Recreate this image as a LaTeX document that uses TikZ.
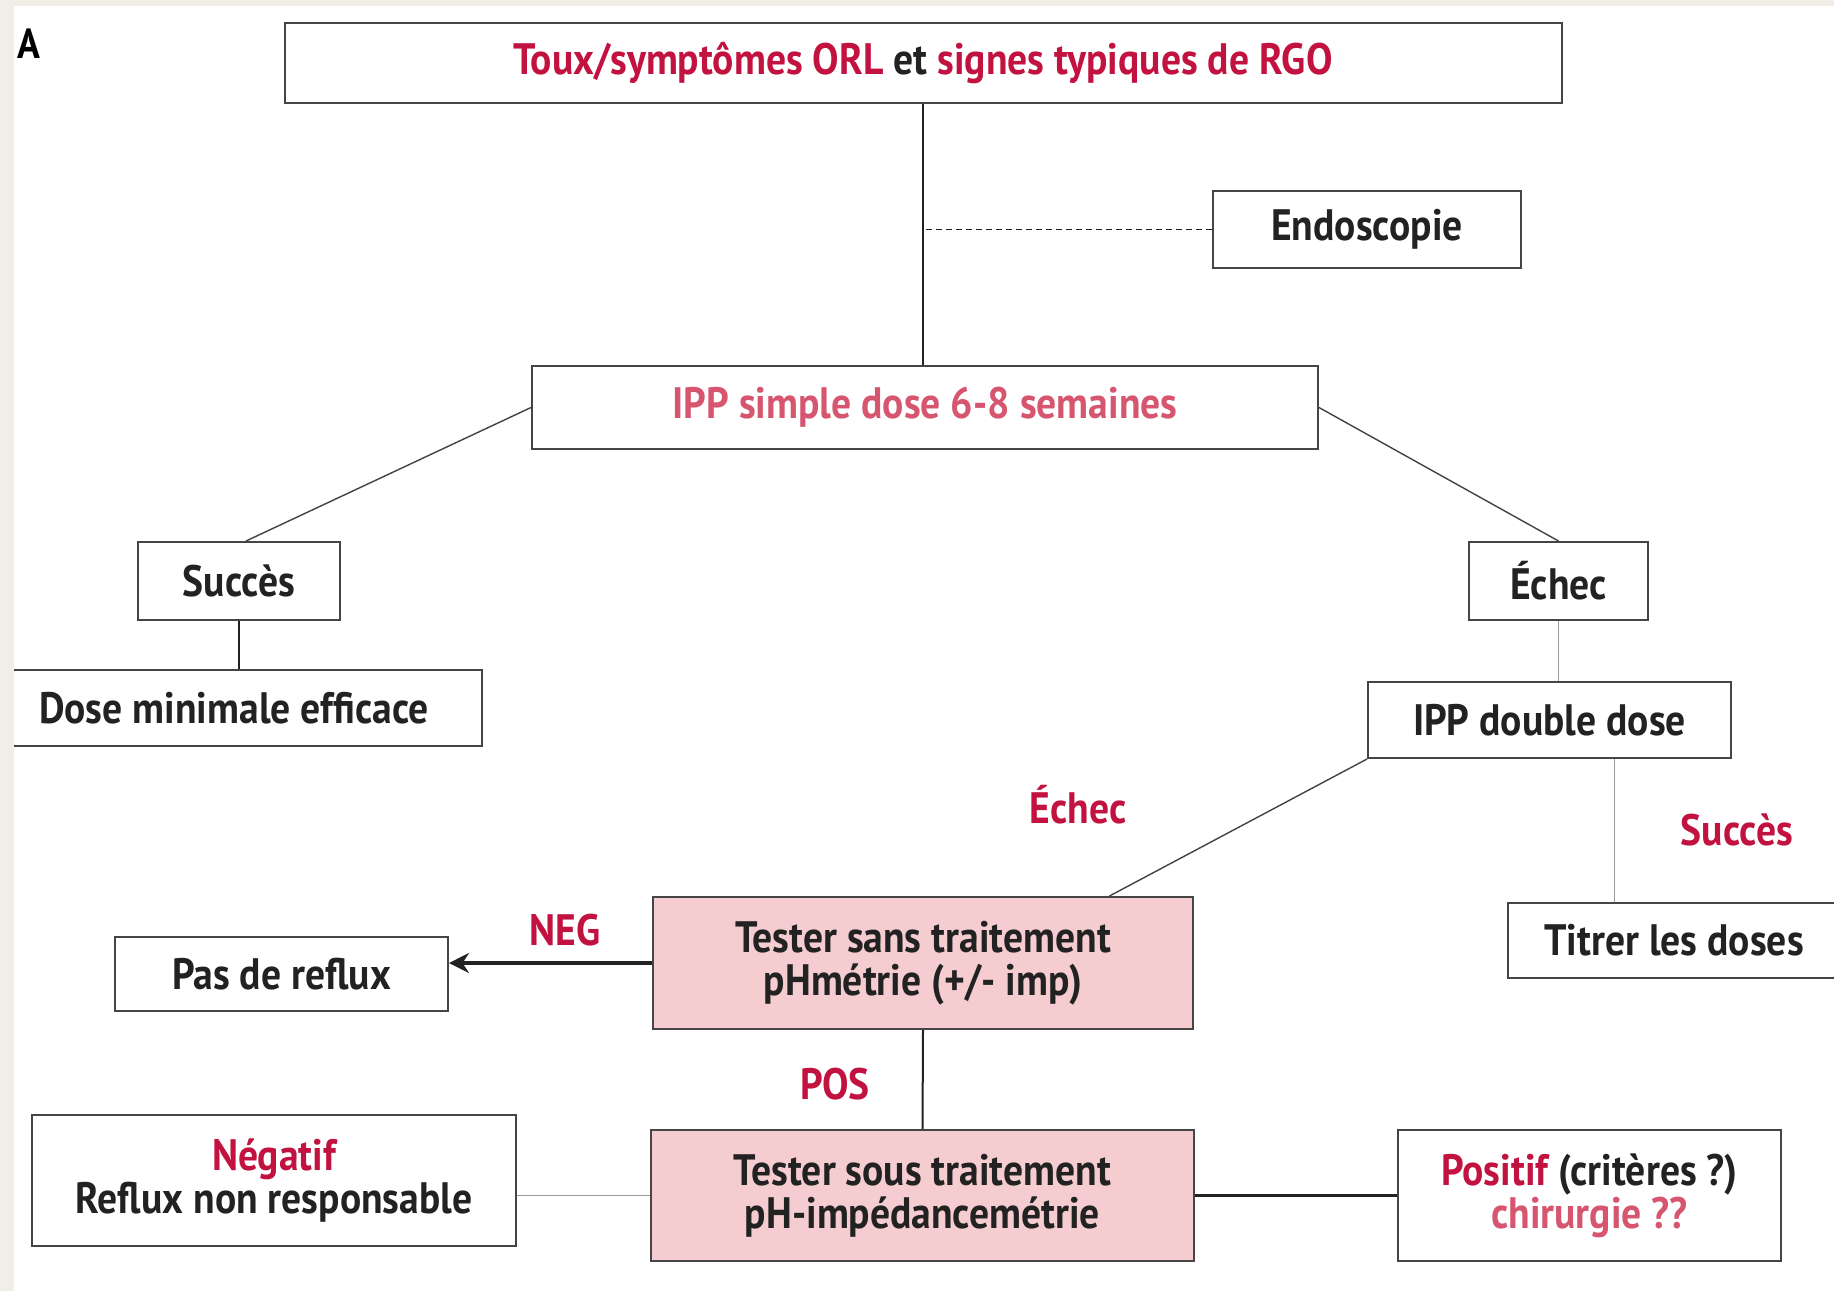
\documentclass[tikz,border=0pt]{standalone}
\usepackage{fontspec}
\setmainfont{PT Sans}[FakeStretch=0.9]
\usetikzlibrary{arrows.meta,calc}
\definecolor{crimson}{HTML}{C2123F}
\definecolor{rose}{HTML}{D65670}
\definecolor{boxline}{HTML}{454545}
\definecolor{ink}{HTML}{222222}
\definecolor{testfill}{HTML}{F5CDD1}
\definecolor{paper}{HTML}{F1EEE8}
\begin{document}
\begin{tikzpicture}[x=0.5pt,y=-0.5pt,
  every node/.style={text=ink,font=\fontsize{22}{21.6}\selectfont\bfseries},
  box/.style={draw=boxline,line width=1pt,fill=white,inner sep=0pt,align=center},
  testbox/.style={box,fill=testfill},
  link/.style={draw=ink,line width=1pt},
  thinlink/.style={draw=ink!85,line width=0.7pt},
  faintlink/.style={draw=gray!80,line width=0.7pt},
  tag/.style={text=crimson,inner sep=0pt}]

% page
\fill[white] (0,0) rectangle (1834,1291);
\useasboundingbox (0,0) rectangle (1834,1291);

% boxes
\node[box,minimum width=638.5pt,minimum height=40pt] (top) at (923,63)
  {{\color{crimson}Toux/symptômes ORL} et {\color{crimson}signes typiques de RGO}};
\node[box,minimum width=154pt,minimum height=38.5pt] (endo) at (1367,229.5) {Endoscopie};
\node[box,minimum width=393pt,minimum height=41.5pt,text=rose] (ipp1) at (925,407.5)
  {IPP simple dose 6-8 semaines};
\node[box,minimum width=101pt,minimum height=39pt] (succes) at (239,581) {Succès};
\node[box,minimum width=236pt,minimum height=38pt] (dose) at (246,708)
  {Dose minimale efficace\hspace{12pt}};
\node[box,minimum width=89.5pt,minimum height=39pt] (echec) at (1558.5,581) {Échec};
\node[box,minimum width=181.5pt,minimum height=38pt] (ipp2) at (1549.5,720) {IPP double dose};
\node[box,minimum width=166pt,minimum height=37.5pt] (titrer) at (1674,940.5) {Titrer les doses};
\node[testbox,minimum width=270pt,minimum height=66pt] (tsans) at (923,963)
  {Tester sans traitement\\pHmétrie (+/- imp)};
\node[box,minimum width=166.5pt,minimum height=37pt] (pas) at (281.5,974) {Pas de reflux};
\node[testbox,minimum width=271.5pt,minimum height=65.5pt] (tsous) at (922.5,1195.5)
  {Tester sous traitement\\pH-impédancemétrie};
\node[box,minimum width=242pt,minimum height=65.5pt] (negatif) at (274,1180.5)
  {{\color{crimson}Négatif}\\Reflux non responsable};
\node[box,minimum width=191.5pt,minimum height=65.5pt] (positif) at (1589.5,1195.5)
  {{\color{crimson}Positif} (critères ?)\\{\color{rose}chirurgie ??}};

% connectors
\draw[link] (top.south) -- (top.south |- ipp1.north);
\draw[link,densely dashed,line width=0.6pt] (endo.west) -- (endo.west -| top.south);
\draw[thinlink] (ipp1.west) -- ($(succes.north)+(7,0)$);
\draw[thinlink] (ipp1.east) -- (echec.north);
\draw[link,line width=0.7pt] (succes.south) -- (succes.south |- dose.north);
\draw[faintlink] (echec.south) -- (echec.south |- ipp2.north);
\coordinate (ipp2foot) at ($(ipp2.south west)!0.678!(ipp2.south east)$);
\draw[faintlink] (ipp2foot) -- (ipp2foot |- titrer.north);
\draw[thinlink] (ipp2.south west) -- ($(tsans.north east)!0.156!(tsans.north west)$);
\draw[link,line width=1.6pt,-{Stealth[length=10pt,width=10pt]}] (tsans.west) -- (tsans.west -| pas.east);
\draw[link] (tsans.south) -- (tsous.north);
\draw[faintlink] (tsous.west) -- (tsous.west -| negatif.east);
\draw[link,line width=1.2pt] (tsous.east) -- (tsous.east -| positif.west);

% branch labels
\node[tag] (lechec) at (1078,805) {Échec};
\node[tag] (lsucces) at (1737,830) {Succès};
\node[tag] (lneg) at (565,930) {NEG};
\node[tag] (lpos) at (835,1084) {POS};

% panel letter
\node[font=\fontsize{21}{24}\selectfont\bfseries,text=black] (panel) at (29,44) {A};

% paper margins
\fill[paper] (0,0) rectangle (14,1291);
\fill[paper] (0,0) rectangle (1834,6);
\end{tikzpicture}
\end{document}
